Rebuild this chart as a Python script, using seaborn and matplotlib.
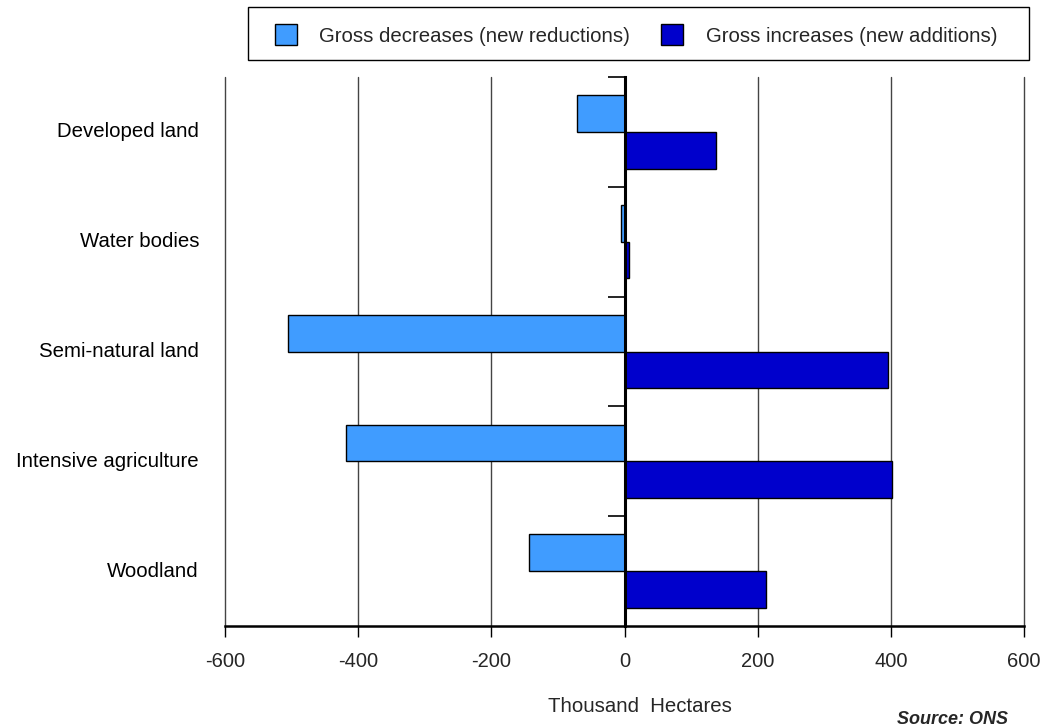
import matplotlib
matplotlib.use("Agg")
import matplotlib.pyplot as plt
import matplotlib.patches as mpatches
import seaborn as sns
import pandas as pd
import numpy as np

categories = ["Developed land", "Water bodies", "Semi-natural land",
              "Intensive agriculture", "Woodland"]
decreases = [-72, -6, -505, -418, -143]
increases = [137, 7, 395, 402, 213]
series_names = ["Gross decreases (new reductions)", "Gross increases (new additions)"]
colors = ["#409CFF", "#0000CC"]
x_ticks = [-600, -400, -200, 0, 200, 400, 600]

df = pd.DataFrame({
    "category": categories * 2,
    "value": decreases + increases,
    "series": [series_names[0]] * len(categories) + [series_names[1]] * len(categories),
})

sns.set_theme(style="white")
plt.rcParams["font.family"] = ["Liberation Sans", "DejaVu Sans"]

W, H = 1044, 726
fig = plt.figure(figsize=(W / 100, H / 100), dpi=100)
ax = fig.add_axes([225 / W, 1 - 626 / H, 799 / W, 549 / H])

# gridlines
for xt in x_ticks:
    ax.axvline(xt, color="#444444", lw=1.0, zorder=0, clip_on=False)

sns.barplot(data=df, y="category", x="value", hue="series", order=categories,
            hue_order=series_names, palette=colors, orient="h", width=0.67,
            edgecolor="black", linewidth=1.0, saturation=1, legend=False,
            ax=ax, zorder=2)

ax.set_xlim(-600, 600)
ax.set_ylim(len(categories) - 0.5, -0.5)
ax.set_xticks(x_ticks)
ax.set_xticklabels([str(v) for v in x_ticks], fontsize=14.5)
ax.tick_params(axis="x", direction="out", length=8, width=1, color="black",
               bottom=True, pad=11)

for s in ["top", "right"]:
    ax.spines[s].set_visible(False)
ax.spines["left"].set_position(("data", 0))
ax.spines["left"].set_color("black")
ax.spines["left"].set_linewidth(2.2)
ax.spines["left"].set_zorder(3)
ax.spines["bottom"].set_color("black")
ax.spines["bottom"].set_linewidth(1.8)

ax.set_yticks(np.arange(len(categories)))
ax.set_yticklabels([])
ax.tick_params(axis="y", which="major", length=0)
ax.set_yticks(np.arange(-0.5, len(categories) - 0.5, 1), minor=True)
ax.tick_params(axis="y", which="minor", length=12, width=1.2, color="black",
               direction="out", left=True)
ax.set_ylabel("")
ax.set_xlabel("")

for i, c in enumerate(categories):
    ax.text(-26 / 799, i, c, transform=ax.get_yaxis_transform(),
            ha="right", va="center", fontsize=14.7, color="black")

fig.text(640 / W, 1 - 707 / H, "Thousand  Hectares", ha="center",
         va="center", fontsize=14.7)
fig.text(1008 / W, 1 - 719 / H, "Source: ONS", ha="right", va="center",
         fontsize=13, fontweight="bold", fontstyle="italic")

# legend frame
fig.patches.append(mpatches.Rectangle((248 / W, 1 - 60 / H), 781 / W, 53 / H,
                                      transform=fig.transFigure, facecolor="white",
                                      edgecolor="black", lw=1.0))
handles = [mpatches.Patch(facecolor=c, edgecolor="black", lw=1) for c in colors]
leg = fig.legend(handles, series_names, ncol=2, loc="center",
                 bbox_to_anchor=(636 / W, 1 - 35 / H), fontsize=14.7,
                 frameon=False, handlelength=1.1, handleheight=1.2,
                 columnspacing=1.5, borderpad=0.2, handletextpad=1.1)

fig.savefig("out.png", dpi=100)
